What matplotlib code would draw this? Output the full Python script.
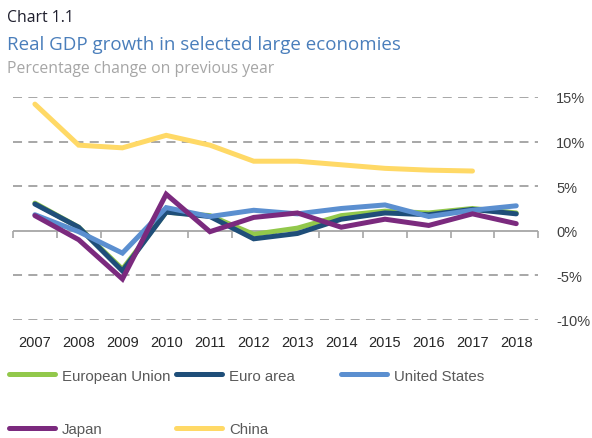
import matplotlib.pyplot as plt
from matplotlib.lines import Line2D

years = ["2007", "2008", "2009", "2010", "2011", "2012",
         "2013", "2014", "2015", "2016", "2017", "2018"]

eu = [3.1, 0.4, -4.3, 2.1, 1.7, -0.4, 0.3, 1.7, 2.2, 2.0, 2.5, 2.0]
euro_area = [3.0, 0.4, -4.5, 2.1, 1.6, -0.9, -0.3, 1.3, 2.0, 1.8, 2.4, 1.9]
us = [1.8, -0.1, -2.5, 2.6, 1.6, 2.3, 1.9, 2.5, 2.9, 1.6, 2.3, 2.8]
japan = [1.7, -1.0, -5.4, 4.1, -0.1, 1.5, 2.0, 0.4, 1.3, 0.6, 1.9, 0.8]
china = [14.2, 9.6, 9.3, 10.7, 9.6, 7.8, 7.8, 7.4, 7.0, 6.8, 6.7]

y_ticks = [-10, -5, 0, 5, 10, 15]

series = [
    ("European Union", eu, "#92c84b"),
    ("Euro area", euro_area, "#1f4e79"),
    ("United States", us, "#5b8fd0"),
    ("Japan", japan, "#7b2a7e"),
    ("China", china, "#ffd966"),
]

plt.rcParams["font.family"] = ["Liberation Sans", "DejaVu Sans"]

fig = plt.figure(figsize=(5.92, 4.39), dpi=100)
ax = fig.add_axes([0.022, 0.2688, 0.887, 0.508])

x = list(range(len(years)))

# dashed gridlines, solid zero line
for v in y_ticks:
    if v == 0:
        ax.axhline(v, color="#a6a6a6", lw=1.3, zorder=1)
    else:
        ax.axhline(v, color="#a0a0a0", lw=1.3, ls=(0, (5, 3.5)), zorder=1)

for name, vals, col in series:
    ax.plot(x[:len(vals)], vals, color=col, lw=3.6, solid_capstyle="round",
            solid_joinstyle="miter", zorder=3)

ax.set_xlim(-0.5, len(years) - 0.5)
ax.set_ylim(-10, 15)
ax.set_xticks(x)
ax.set_xticklabels(years, fontsize=10.5, color="#262626")
ax.tick_params(axis="x", length=0, pad=11)
ax.yaxis.tick_right()
ax.set_yticks(y_ticks)
ax.set_yticklabels([f"{v}%" for v in y_ticks], fontsize=10.5, color="#404040")
ax.tick_params(axis="y", length=0, pad=13)
for s in ax.spines.values():
    s.set_visible(False)

# category boundary ticks hanging from the zero line
zero_frac = (0 - y_ticks[0]) / (y_ticks[-1] - y_ticks[0])
sec = ax.secondary_xaxis(zero_frac)
sec.set_xticks([i - 0.5 for i in range(len(years) + 1)])
sec.set_xticklabels([])
sec.tick_params(axis="x", direction="out", length=5, width=1.2, color="#a6a6a6")
sec.spines["bottom"].set_visible(False)

fig.text(0.012, 0.958, "Chart 1.1", fontsize=11.3, color="#1f1f2e",
         family=["Open Sans", "DejaVu Sans"], va="center")
fig.text(0.012, 0.898, "Real GDP growth in selected large economies", fontsize=13.5,
         color="#4a7ebb", family=["Open Sans", "DejaVu Sans"], va="center")
fig.text(0.012, 0.843, "Percentage change on previous year", fontsize=11.3,
         color="#a6a6a6", family=["Open Sans", "DejaVu Sans"], va="center")

# legend entries in a fixed grid
legend_pos = [(-0.008, 0.142), (0.274, 0.142), (0.553, 0.142),
              (-0.008, 0.02), (0.274, 0.02)]
for (name, vals, col), (lx, ly) in zip(series, legend_pos):
    h = Line2D([], [], color=col, lw=3.6, solid_capstyle="round")
    fig.legend(handles=[h], labels=[name], loc="center left",
               bbox_to_anchor=(lx, ly), frameon=False, fontsize=10.8,
               handlelength=3.1, handletextpad=0.45, labelcolor="#595959")

fig.savefig("out.png", dpi=100)
